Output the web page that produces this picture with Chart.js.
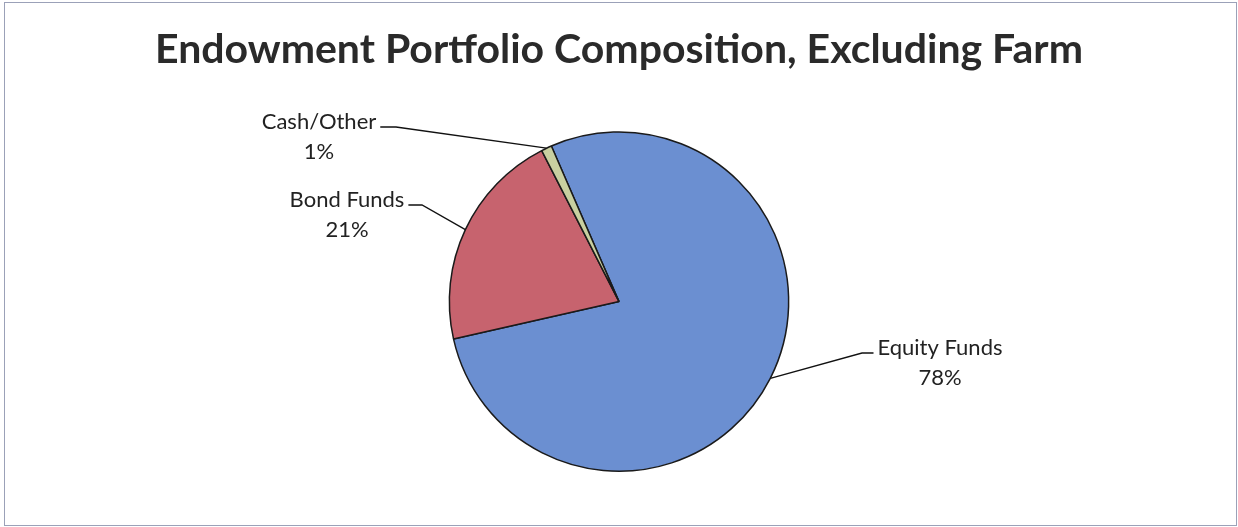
<!DOCTYPE html>
<html>
<head>
<meta charset="utf-8">
<script src="https://cdn.jsdelivr.net/npm/chart.js@4/dist/chart.umd.min.js"></script>
<style>
  body { margin: 0; background: #fff; }
  #wrap { position: relative; width: 1238px; height: 527px; }
  #frame { position: absolute; left: 4px; top: 2px; width: 1231px; height: 522px; border: 1px solid #9ba1b8; pointer-events: none; }
</style>
</head>
<body>
<div id="wrap">
  <canvas id="pieChart" width="1238" height="527"></canvas>
  <div id="frame"></div>
</div>
<script>
// chart data
const categories = ['Equity Funds', 'Bond Funds', 'Cash/Other']
const shares = [78, 21, 1]
const sliceColors = ['#6b8fd1', '#c7636e', '#c9d0a0']

// where each label sits (text centre, first line) and where its leader line turns
const labelSpots = [
  { x: 940, y: 348, elbowX: 862, side: 'right' },
  { x: 347, y: 200, elbowX: 422, side: 'left' },
  { x: 319, y: 122, elbowX: 396, side: 'left' }
]

const labelFont = '22px Lato'

// draws the two-line labels with leader lines like Excel does
const leaderLabels = {
  id: 'leaderLabels',
  afterDraw(chart) {
    const ctx = chart.ctx
    const arcs = chart.getDatasetMeta(0).data
    ctx.save()
    ctx.font = labelFont
    ctx.fillStyle = '#222'
    ctx.strokeStyle = '#111'
    ctx.lineWidth = 1.3
    ctx.textAlign = 'center'
    ctx.textBaseline = 'middle'
    arcs.forEach(function(arc, i) {
      const spot = labelSpots[i]
      const mid = (arc.startAngle + arc.endAngle) / 2
      const ax = arc.x + Math.cos(mid) * arc.outerRadius
      const ay = arc.y + Math.sin(mid) * arc.outerRadius
      const name = categories[i]
      const pct = shares[i] + '%'
      ctx.fillText(name, spot.x, spot.y)
      ctx.fillText(pct, spot.x, spot.y + 30)
      const w = ctx.measureText(name).width
      const ly = spot.y + 5
      const tx = spot.side === 'left' ? spot.x + w / 2 + 4 : spot.x - w / 2 - 4
      ctx.beginPath()
      ctx.moveTo(tx, ly)
      ctx.lineTo(spot.elbowX, ly)
      ctx.lineTo(ax, ay)
      ctx.stroke()
    })
    ctx.restore()
  }
}

const ctx = document.getElementById('pieChart').getContext('2d')
const myChart = new Chart(ctx, {
  type: 'pie',
  data: {
    labels: categories,
    datasets: [{
      data: shares,
      backgroundColor: sliceColors,
      borderColor: '#1a1a1a',
      borderWidth: 1.5
    }]
  },
  options: {
    responsive: false,
    animation: false,
    rotation: -23.5,
    layout: { padding: { top: 0, bottom: 55, left: 0, right: 0 } },
    plugins: {
      legend: { display: false },
      tooltip: { enabled: false },
      title: {
        display: true,
        text: 'Endowment Portfolio Composition, Excluding Farm',
        color: '#2a2a2a',
        font: { family: 'Lato', size: 41, weight: 'bold', lineHeight: 1.2 },
        padding: { top: 25, bottom: 57 }
      }
    }
  },
  plugins: [leaderLabels]
})
</script>
</body>
</html>
